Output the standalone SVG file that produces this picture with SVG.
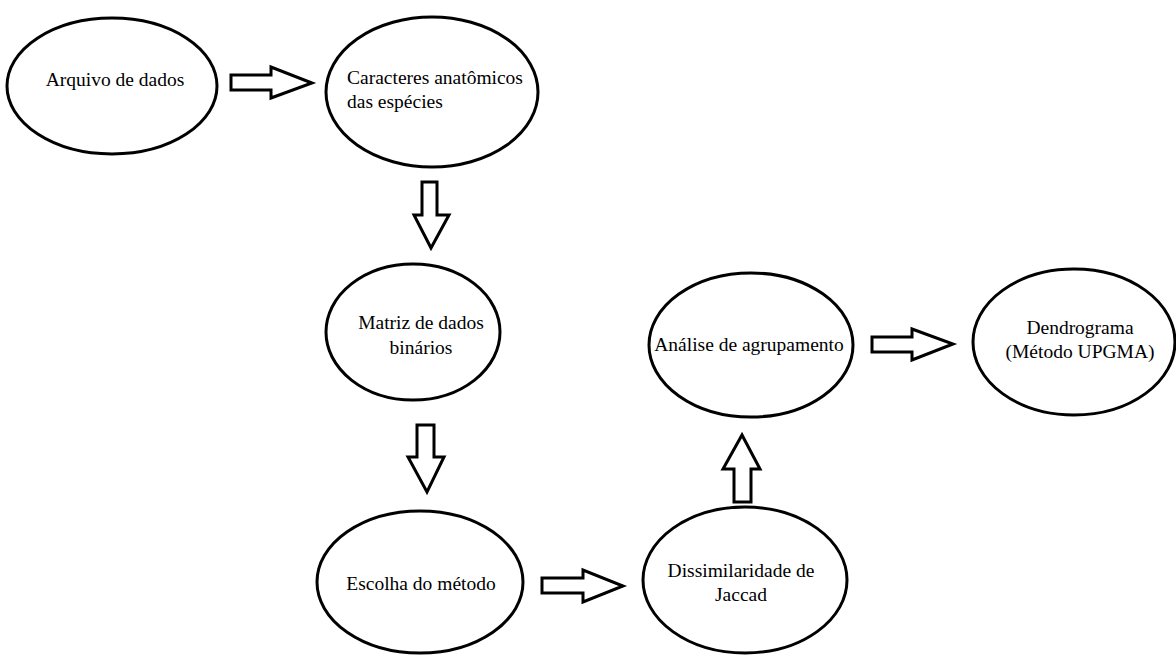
<svg xmlns="http://www.w3.org/2000/svg" width="1176" height="656" viewBox="0 0 1176 656">
<style>
.node ellipse{fill:#fff;stroke:#000;stroke-width:3}
.node text{font-family:"Liberation Serif","Times New Roman",serif;font-size:19.5px;fill:#000;text-anchor:middle}
.node text.left{text-anchor:start}
.arrow{fill:#fff;stroke:#000;stroke-width:3;stroke-linejoin:miter}
</style>
<rect width="1176" height="656" fill="#fff"/>
<g id="connectors">
<path class="arrow" d="M231,75 H271 V67 L312,83 L271,98 V90 H231 Z"/>
<path class="arrow" d="M422,182 H437 V215 H449 L431,248 L414,215 H422 Z"/>
<path class="arrow" d="M417,425 H434 V457 H444 L427,492 L408,457 H417 Z"/>
<path class="arrow" d="M542,578 H583 V570 L623,586 L583,602 V593 H542 Z"/>
<path class="arrow" d="M734,502 V469 H723 L742,435 L760,469 H751 V502 Z"/>
<path class="arrow" d="M872,337 H912 V329 L953,344 L912,360 V352 H872 Z"/>
</g>
<g id="n1" class="node">
<ellipse cx="112" cy="86" rx="105" ry="68"/>
<text x="115" y="86">Arquivo de dados</text>
</g>
<g id="n2" class="node">
<ellipse cx="432" cy="92" rx="106" ry="75"/>
<text class="left" x="347" y="84">Caracteres anatômicos</text>
<text class="left" x="347" y="108">das espécies</text>
</g>
<g id="n3" class="node">
<ellipse cx="413" cy="332" rx="87" ry="68"/>
<text x="421" y="329">Matriz de dados</text>
<text x="421" y="354">binários</text>
</g>
<g id="n4" class="node">
<ellipse cx="420" cy="582" rx="103" ry="71"/>
<text x="421" y="590">Escolha do método</text>
</g>
<g id="n5" class="node">
<ellipse cx="745" cy="580" rx="102" ry="73"/>
<text x="741" y="577">Dissimilaridade de</text>
<text x="741" y="601">Jaccad</text>
</g>
<g id="n6" class="node">
<ellipse cx="751" cy="345" rx="102" ry="72"/>
<text x="749" y="351">Análise de agrupamento</text>
</g>
<g id="n7" class="node">
<ellipse cx="1074" cy="342" rx="101" ry="73"/>
<text x="1080" y="334">Dendrograma</text>
<text x="1080" y="358">(Método UPGMA)</text>
</g>
</svg>
